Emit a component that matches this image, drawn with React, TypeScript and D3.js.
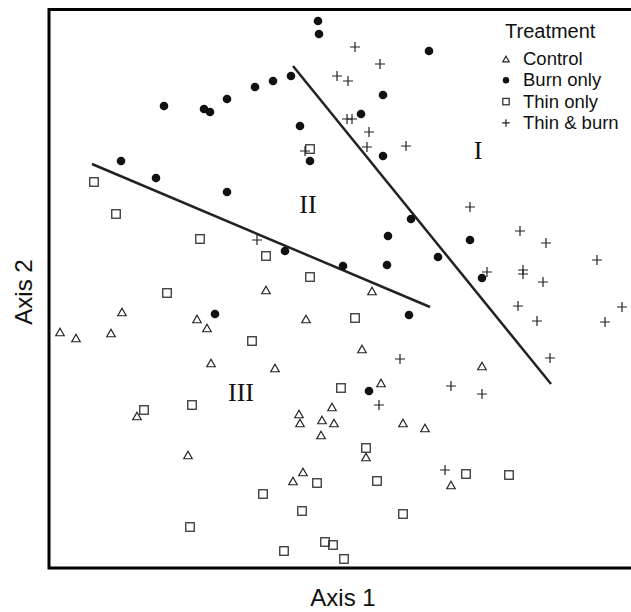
import * as d3 from 'd3';
import React from 'react';

const width = 631;
const height = 612;
const margin = { top: 10, right: 2, bottom: 44, left: 49 };

// ordination scores (axis 1, axis 2)
const control = [
  [-2.17, -0.23], [-2.79, -0.43], [-2.63, -0.49], [-2.28, -0.44], [-1.42, -0.3],
  [-1.32, -0.39], [-1.28, -0.74], [-0.73, -0.01], [0.33, -0.02], [-0.33, -0.3],
  [0.23, -0.6], [-0.64, -0.79], [0.42, -0.94], [1.43, -0.77], [-2.02, -1.27],
  [-1.51, -1.66], [-0.4, -1.25], [-0.39, -1.34], [-0.07, -1.18], [-0.17, -1.31],
  [-0.05, -1.34], [-0.18, -1.46], [0.27, -1.68], [0.64, -1.34], [0.86, -1.39],
  [-0.36, -1.83], [-0.46, -1.92], [1.12, -1.96]
];
const burnOnly = [
  [-1.75, 1.83], [-1.35, 1.8], [-1.29, 1.77], [-1.12, 1.9], [-2.18, 1.28],
  [-1.83, 1.11], [-1.12, 0.97], [-0.21, 2.68], [-0.2, 2.55], [-0.48, 2.13],
  [-0.66, 2.08], [-0.84, 2.02], [0.44, 1.94], [0.22, 1.75], [-0.39, 1.63],
  [-0.29, 1.28], [0.44, 1.33], [0.9, 2.38], [0.72, 0.7], [0.49, 0.53],
  [0.48, 0.24], [-0.54, 0.38], [0.04, 0.23], [0.7, -0.26], [0.3, -1.02],
  [1.31, 0.49], [0.99, 0.32], [1.43, 0.11], [-1.24, -0.25]
];
const thinOnly = [
  [-2.45, 1.07], [-0.29, 1.4], [-2.23, 0.75], [-1.39, 0.5], [-1.72, -0.04],
  [-0.73, 0.33], [-0.29, 0.12], [0.16, -0.29], [-0.87, -0.52], [0.02, -0.99],
  [-1.95, -1.21], [-1.47, -1.16], [-1.49, -2.38], [0.27, -1.59], [0.38, -1.92],
  [-0.22, -1.94], [-0.76, -2.05], [-0.37, -2.22], [0.64, -2.25], [-0.14, -2.53],
  [-0.06, -2.56], [-0.55, -2.62], [0.05, -2.7], [1.27, -1.85], [1.7, -1.86]
];
const thinBurn = [
  [0.16, 2.42], [0.41, 2.25], [-0.02, 2.13], [0.09, 2.08], [0.08, 1.7],
  [0.13, 1.7], [0.3, 1.57], [0.28, 1.42], [0.67, 1.43], [-0.34, 1.38],
  [1.31, 0.82], [1.81, 0.58], [2.07, 0.46], [2.58, 0.29], [1.48, 0.17],
  [1.84, 0.19], [1.84, 0.15], [2.04, 0.07], [1.79, -0.17], [1.98, -0.32],
  [2.83, -0.18], [2.66, -0.33], [2.11, -0.69], [1.12, -0.97], [1.43, -1.05],
  [-0.82, 0.49], [0.61, -0.7], [0.4, -1.16], [1.06, -1.81]
];

// group boundary lines and their labels
const lineI = [[-0.46, 2.23], [2.12, -0.95]];
const lineII = [[-2.47, 1.25], [0.91, -0.18]];
const groupLabels = [
  { text: 'I', x: 1.39, y: 1.3 },
  { text: 'II', x: -0.31, y: 0.76 },
  { text: 'III', x: -0.98, y: -1.12 }
];

const legendTitle = 'Treatment';
const legendItems = ['Control', 'Burn only', 'Thin only', 'Thin & burn'];

const x = d3.scaleLinear().domain([-2.9, 2.9]).range([margin.left, margin.left + 580]);
const y = d3.scaleLinear().domain([-2.79, 2.79]).range([568, margin.top]);
const line = d3.line<number[]>().x(d => x(d[0])).y(d => y(d[1]));

const ink = '#222';

function Marker({ kind, cx, cy, s = 1 }: { kind: number; cx: number; cy: number; s?: number }) {
  if (kind === 0) {
    const h = 7.5 * s, w = 8.5 * s;
    return (
      <path
        d={`M${cx},${cy - h / 2}L${cx + w / 2},${cy + h / 2}L${cx - w / 2},${cy + h / 2}Z`}
        fill="none" stroke={ink} strokeWidth={1.2} />
    );
  }
  if (kind === 1) return <circle cx={cx} cy={cy} r={4.3 * s} fill="#111" />;
  if (kind === 2) {
    const a = 8.5 * s;
    return <rect x={cx - a / 2} y={cy - a / 2} width={a} height={a} fill="none" stroke="#333" strokeWidth={1.3} />;
  }
  const a = 5 * s;
  return (
    <path d={`M${cx - a},${cy}H${cx + a}M${cx},${cy - a}V${cy + a}`} stroke={ink} strokeWidth={1.2} />
  );
}

export default function App() {
  const series = [control, burnOnly, thinOnly, thinBurn];
  return (
    <svg width={width} height={height} style={{ position: 'absolute', left: 0, top: 0, background: '#fff' }}
      fontFamily="'Liberation Sans', Arial, sans-serif">
      <rect x={margin.left} y={9.5} width={590} height={558.5} fill="none" stroke="#000" strokeWidth={3} />

      <path d={line(lineI) || ''} fill="none" stroke="#222" strokeWidth={2.5} />
      <path d={line(lineII) || ''} fill="none" stroke="#222" strokeWidth={2.5} />

      {series.map((pts, k) =>
        pts.map((p, i) => <Marker key={`${k}-${i}`} kind={k} cx={x(p[0])} cy={y(p[1])} />)
      )}

      {groupLabels.map(l => (
        <text key={l.text} x={x(l.x)} y={y(l.y)} textAnchor="middle"
          fontFamily="'Liberation Serif', 'Times New Roman', serif" fontSize={26} fill="#111">
          {l.text}
        </text>
      ))}

      <g>
        <text x={505} y={38} fontSize={20} fill="#111">{legendTitle}</text>
        {legendItems.map((t, i) => (
          <g key={t}>
            <Marker kind={i} cx={506} cy={59 + i * 21.3} s={0.75} />
            <text x={523} y={65 + i * 21.3} fontSize={18.5} fill="#111">{t}</text>
          </g>
        ))}
      </g>

      <text x={343} y={606} textAnchor="middle" fontSize={24} fill="#111">Axis 1</text>
      <text transform="translate(32,292) rotate(-90)" textAnchor="middle" fontSize={24} fill="#111">Axis 2</text>
    </svg>
  );
}
